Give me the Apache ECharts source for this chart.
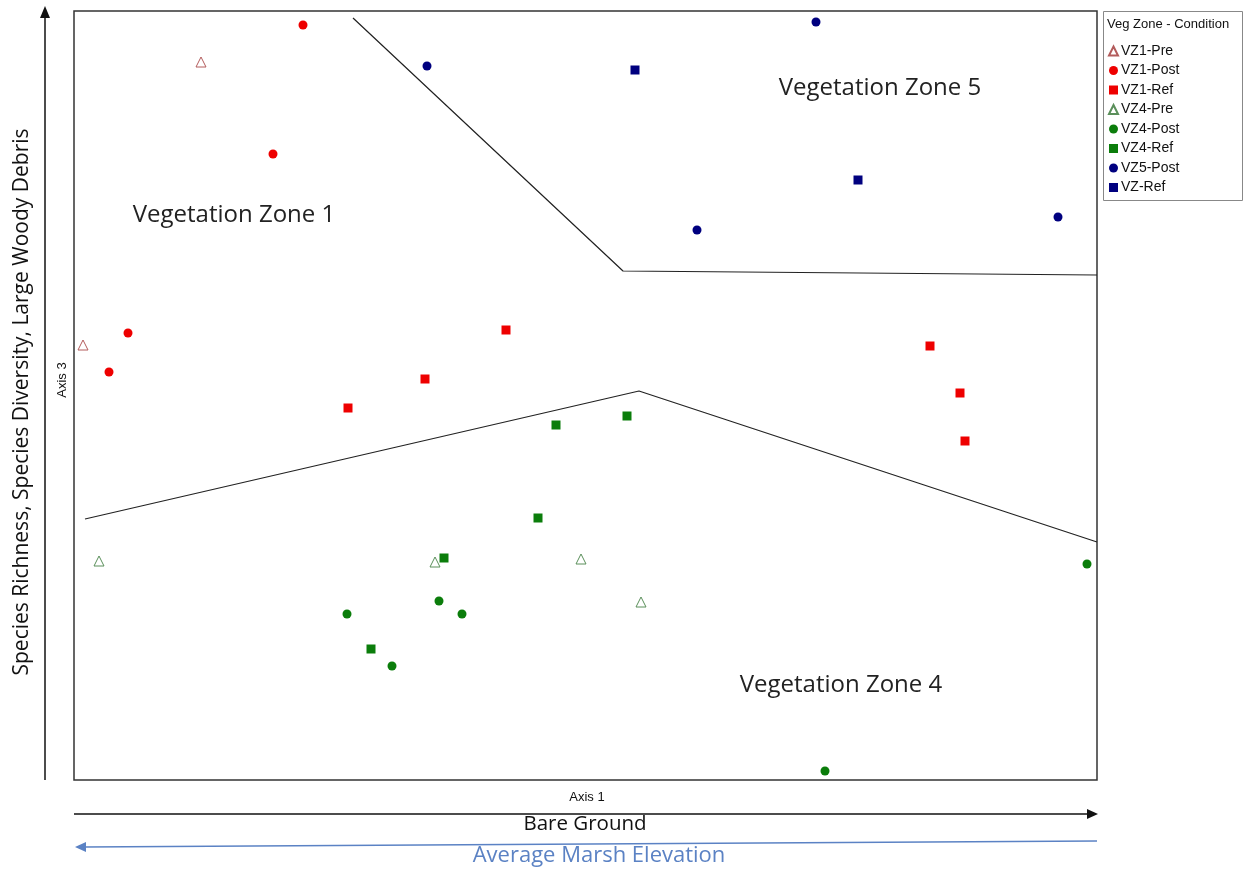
<!DOCTYPE html>
<html><head><meta charset="utf-8">
<script src="https://cdn.jsdelivr.net/npm/echarts@6/dist/echarts.min.js"></script>
<style>html,body{margin:0;padding:0;background:#fff}#c{width:1247px;height:869px}</style>
</head><body><div id="c"></div>
<script>
// Ordination scores (arbitrary units): [Axis 1, Axis 3]
const vz1Pre  = [[127,718],[9,435]];
const vz1Post = [[229,755],[199,626],[54,447],[35,408]];
const vz1Ref  = [[432,450],[351,401],[274,372],[856,434],[886,387],[891,339]];
const vz4Pre  = [[25,219],[361,218],[507,221],[567,178]];
const vz4Post = [[1013,216],[273,166],[365,179],[388,166],[318,114],[751,9]];
const vz4Ref  = [[482,355],[553,364],[464,262],[370,222],[297,131]];
const vz5Post = [[353,714],[742,758],[623,550],[984,563]];
const vzRef   = [[561,710],[784,600]];
const upperBoundary = [[279,762],[549,509],[1023,505]];
const lowerBoundary = [[11,261],[565,389],[1023,238]];
const seriesNames = ['VZ1-Pre','VZ1-Post','VZ1-Ref','VZ4-Pre','VZ4-Post','VZ4-Ref','VZ5-Post','VZ-Ref'];

const RED='#ee0000', GREEN='#0b7d0b', NAVY='#00007f';
const NARROW='"Liberation Sans",sans-serif';
const HUM='"Open Sans",sans-serif';
function sc(name,data,symbol,color,size,hollow,stroke){
  return {type:'scatter',name,data,symbol,symbolSize:size,clip:false,
    itemStyle: hollow ? {color:'#fff',borderColor:stroke,borderWidth:1,opacity:1} : {color:color,opacity:1}};
}
function ln(data){
  return {type:'line',data,symbol:'none',silent:true,lineStyle:{color:'#222',width:1.2},z:1};
}
const chart = echarts.init(document.getElementById('c'));
chart.setOption({
  animation:false,
  grid:{left:74,top:11,width:1023,height:769,show:true,borderColor:'#333',borderWidth:1.5,backgroundColor:'#fff'},
  xAxis:{type:'value',min:0,max:1023,axisLine:{show:false},axisTick:{show:false},axisLabel:{show:false},splitLine:{show:false}},
  yAxis:{type:'value',min:0,max:769,axisLine:{show:false},axisTick:{show:false},axisLabel:{show:false},splitLine:{show:false}},
  legend:{orient:'vertical',left:1103,top:39,itemGap:5.5,itemWidth:9,itemHeight:9,
    data:seriesNames,textStyle:{fontFamily:NARROW,fontSize:14,color:'#111',padding:[0,0,0,-2]}},
  series:[
    sc('VZ1-Pre',vz1Pre,'triangle',null,10,true,'#b35c5c'),
    sc('VZ1-Post',vz1Post,'circle',RED,9),
    sc('VZ1-Ref',vz1Ref,'rect',RED,9),
    sc('VZ4-Pre',vz4Pre,'triangle',null,10,true,'#5a8f5a'),
    sc('VZ4-Post',vz4Post,'circle',GREEN,9),
    sc('VZ4-Ref',vz4Ref,'rect',GREEN,9),
    sc('VZ5-Post',vz5Post,'circle',NAVY,9),
    sc('VZ-Ref',vzRef,'rect',NAVY,9),
    ln(upperBoundary), ln(lowerBoundary)
  ],
  graphic:[
    {type:'rect',shape:{x:1103.5,y:11.5,width:139,height:189},style:{fill:'#fff',stroke:'#888',lineWidth:1},z:-1},
    {type:'text',left:1107,top:18,style:{text:'Veg Zone - Condition',font:'13px '+NARROW,fill:'#111'}},
    {type:'text',x:234,y:215,style:{text:'Vegetation Zone 1',font:'24px '+HUM,fill:'#222',align:'center',verticalAlign:'middle'}},
    {type:'text',x:880,y:88,style:{text:'Vegetation Zone 5',font:'24px '+HUM,fill:'#222',align:'center',verticalAlign:'middle'}},
    {type:'text',x:841,y:685,style:{text:'Vegetation Zone 4',font:'24px '+HUM,fill:'#222',align:'center',verticalAlign:'middle'}},
    // vertical arrow
    {type:'line',shape:{x1:45,y1:780,x2:45,y2:16},style:{stroke:'#111',lineWidth:1.5}},
    {type:'polygon',shape:{points:[[40,18],[50,18],[45,6]]},style:{fill:'#111'}},
    {type:'text',x:22,y:402,rotation:Math.PI/2,style:{text:'Species Richness, Species Diversity, Large Woody Debris',font:'21px '+HUM,fill:'#111',align:'center',verticalAlign:'middle'}},
    {type:'text',x:62,y:380,rotation:Math.PI/2,style:{text:'Axis 3',font:'13px '+NARROW,fill:'#111',align:'center',verticalAlign:'middle'}},
    // horizontal arrow
    {type:'text',x:587,y:797,style:{text:'Axis 1',font:'13px '+NARROW,fill:'#111',align:'center',verticalAlign:'middle'}},
    {type:'line',shape:{x1:74,y1:814,x2:1090,y2:814},style:{stroke:'#111',lineWidth:1.5}},
    {type:'polygon',shape:{points:[[1087,809],[1087,819],[1098,814]]},style:{fill:'#111'}},
    {type:'text',x:585,y:824,style:{text:'Bare Ground',font:'20.5px '+HUM,fill:'#111',align:'center',verticalAlign:'middle'}},
    // blue arrow
    {type:'line',shape:{x1:1097,y1:841,x2:84,y2:847},style:{stroke:'#5b82c4',lineWidth:1.5}},
    {type:'polygon',shape:{points:[[86,842],[86,852],[75,847]]},style:{fill:'#5b82c4'}},
    {type:'text',x:599,y:856,style:{text:'Average Marsh Elevation',font:'22px '+HUM,fill:'#5b82c4',align:'center',verticalAlign:'middle'}}
  ]
});
</script></body></html>
